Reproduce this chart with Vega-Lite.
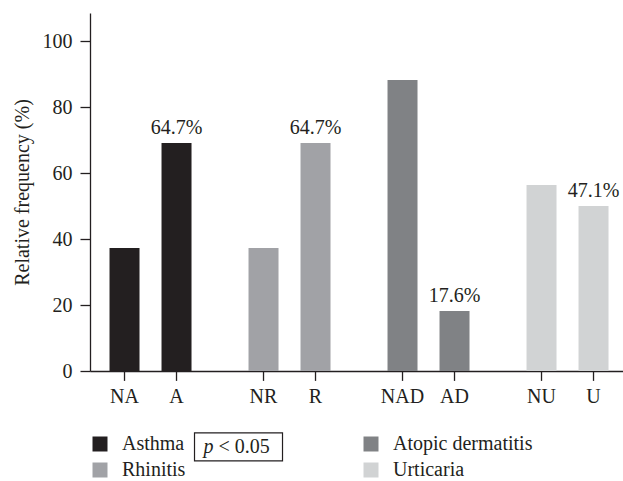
{
  "$schema": "https://vega.github.io/schema/vega-lite/v6.json",
  "autosize": {"type": "none"},
  "width": 533,
  "height": 358,
  "padding": {"left": 90, "top": 13, "right": 0, "bottom": 110},
  "background": "white",
  "config": {
    "view": {"stroke": null},
    "font": "Liberation Serif",
    "axis": {
      "labelFont": "Liberation Serif",
      "titleFont": "Liberation Serif",
      "labelFontSize": 20,
      "titleFontSize": 20,
      "titleFontWeight": "normal",
      "labelColor": "#231f20",
      "titleColor": "#231f20",
      "domainColor": "#231f20",
      "tickColor": "#231f20",
      "domainWidth": 1.3,
      "tickWidth": 1.3,
      "grid": false
    },
    "legend": {
      "labelFont": "Liberation Serif",
      "labelFontSize": 20,
      "labelColor": "#231f20"
    }
  },
  "data": {
    "values": [
      {"group": "Asthma", "status": "without", "item": "NA", "value": 37.3, "label": ""},
      {"group": "Asthma", "status": "with", "item": "A", "value": 69.1, "label": "64.7%"},
      {"group": "Rhinitis", "status": "without", "item": "NR", "value": 37.3, "label": ""},
      {"group": "Rhinitis", "status": "with", "item": "R", "value": 69.1, "label": "64.7%"},
      {"group": "Atopic dermatitis", "status": "without", "item": "NAD", "value": 88.2, "label": ""},
      {"group": "Atopic dermatitis", "status": "with", "item": "AD", "value": 18.2, "label": "17.6%"},
      {"group": "Urticaria", "status": "without", "item": "NU", "value": 56.4, "label": ""},
      {"group": "Urticaria", "status": "with", "item": "U", "value": 50.0, "label": "47.1%"}
    ]
  },
  "encoding": {
    "x": {
      "field": "group",
      "type": "nominal",
      "scale": {
        "domain": ["Asthma", "Rhinitis", "Atopic dermatitis", "Urticaria"],
        "paddingInner": 0.41007,
        "paddingOuter": 0.1223,
        "align": 0.574
      },
      "axis": {"labels": false, "ticks": false, "title": null}
    },
    "xOffset": {
      "field": "status",
      "type": "nominal",
      "scale": {"domain": ["without", "with"], "paddingInner": 0.4231, "paddingOuter": 0}
    }
  },
  "layer": [
    {
      "mark": {"type": "bar"},
      "encoding": {
        "y": {
          "field": "value",
          "type": "quantitative",
          "scale": {"domain": [0, 108.5], "nice": false, "zero": true},
          "axis": {
            "values": [0, 20, 40, 60, 80, 100],
            "tickSize": 10,
            "labelPadding": 8,
            "title": "Relative frequency (%)",
            "titleFont": "Liberation Serif",
            "titleFontSize": 20,
            "titleFontWeight": "normal",
            "titlePadding": 10
          }
        },
        "color": {
          "field": "group",
          "type": "nominal",
          "scale": {
            "domain": ["Asthma", "Rhinitis", "Atopic dermatitis", "Urticaria"],
            "range": ["#231f20", "#a1a2a6", "#808285", "#d1d3d4"]
          },
          "legend": {
            "title": null,
            "orient": "none",
            "legendX": 0,
            "legendY": 421,
            "columns": 2,
            "columnPadding": 175,
            "rowPadding": 6,
            "symbolType": "square",
            "symbolSize": 225,
            "symbolStrokeWidth": 0,
            "labelOffset": 12,
            "labelFont": "Liberation Serif",
            "padding": 0
          }
        }
      }
    },
    {
      "mark": {"type": "text", "baseline": "alphabetic", "dy": -9, "fontSize": 20, "color": "#231f20"},
      "encoding": {
        "y": {"field": "value", "type": "quantitative"},
        "text": {"field": "label"}
      }
    },
    {
      "mark": {"type": "rule", "color": "#231f20", "strokeWidth": 1.3},
      "encoding": {
        "y": {"datum": 0, "type": "quantitative"},
        "y2": {"datum": -3}
      }
    },
    {
      "mark": {"type": "text", "baseline": "alphabetic", "dy": 32, "fontSize": 20, "color": "#231f20"},
      "encoding": {
        "y": {"datum": 0, "type": "quantitative"},
        "text": {"field": "item"}
      }
    },
    {
      "transform": [{"filter": "datum.item === 'A'"}],
      "mark": {
        "type": "point",
        "shape": "M0.409,-0.318H2.409V0.318H0.409Z",
        "size": 7744,
        "filled": false,
        "stroke": "#231f20",
        "strokeWidth": 1.2,
        "opacity": 1
      },
      "encoding": {
        "y": {"datum": -23, "type": "quantitative"}
      }
    },
    {
      "transform": [{"filter": "datum.item === 'A'"}],
      "mark": {"type": "text", "text": "p", "fontStyle": "italic", "align": "left", "baseline": "middle", "dx": 27, "fontSize": 20, "color": "#231f20"},
      "encoding": {
        "y": {"datum": -23, "type": "quantitative"}
      }
    },
    {
      "transform": [{"filter": "datum.item === 'A'"}],
      "mark": {"type": "text", "text": "< 0.05", "align": "left", "baseline": "middle", "dx": 42, "fontSize": 20, "color": "#231f20"},
      "encoding": {
        "y": {"datum": -23, "type": "quantitative"}
      }
    }
  ]
}
